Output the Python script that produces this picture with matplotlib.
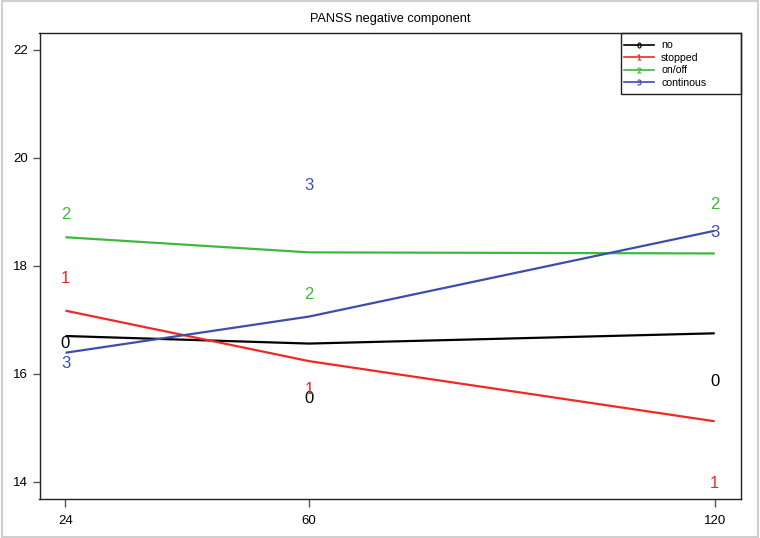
import matplotlib
matplotlib.use("Agg")
import matplotlib.pyplot as plt
from matplotlib.lines import Line2D
from matplotlib.patches import Rectangle

plt.rcParams['font.family'] = ['Liberation Sans', 'DejaVu Sans']

# ---- data ----
time = [24, 60, 120]
series_names = ["no", "stopped", "on/off", "continous"]
series_codes = ["0", "1", "2", "3"]
line_no = [16.70, 16.56, 16.75]
line_stopped = [17.17, 16.235, 15.12]
line_onoff = [18.53, 18.25, 18.23]
line_cont = [16.39, 17.06, 18.65]
pts_no = [16.59, 15.57, 15.88]
pts_stopped = [17.785, 15.74, 14.0]
pts_onoff = [18.97, 17.49, 19.16]
pts_cont = [16.22, 19.51, 18.65]
y_ticks = [14, 16, 18, 20, 22]
title = "PANSS negative component"

colors = ["#000000", "#EE2A24", "#3DB83D", "#3B4EAE"]
lines = [line_no, line_stopped, line_onoff, line_cont]
pts = [pts_no, pts_stopped, pts_onoff, pts_cont]

W, H = 760, 538
fig = plt.figure(figsize=(W/100, H/100), dpi=100)
ax = fig.add_axes([39.5/W, 1-499/H, (740.7-39.5)/W, (499-32.7)/H])

for ys, c in zip(lines, colors):
    ax.plot(time, ys, color=c, lw=1.6, solid_capstyle='butt')
for ys, c, code in zip(pts, colors, series_codes):
    for x, y in zip(time, ys):
        ax.text(x, y, code, color=c, fontsize=12, ha='center', va='center_baseline')

ax.set_xlim(20.16, 123.84)
ax.set_ylim(13.68, 22.32)
ax.set_xticks(time)
ax.set_xticklabels([str(t) for t in time])
ax.set_yticks(y_ticks)
ax.set_yticklabels([str(t) for t in y_ticks])
ax.tick_params(axis='both', length=5.4, width=1.0, color='#555555', labelsize=9.5)
ax.tick_params(axis='x', pad=6.0)
ax.tick_params(axis='y', pad=3)
for s in ax.spines.values():
    s.set_linewidth(1.0)
    s.set_color('#222222')

ax.set_title(title, fontsize=9.2, pad=7.5)

# legend: frame box drawn separately
fig.add_artist(Rectangle((621/W, 1-94.3/H), (740.7-621)/W, (94.3-32.7)/H,
                         transform=fig.transFigure, fill=False,
                         edgecolor='#222222', lw=1.0, zorder=5))
handles = [Line2D([0], [0], color=c, lw=1.2, marker=f'${code}$', markersize=4,
                  markeredgewidth=0.3)
           for c, code in zip(colors, series_codes)]
leg = fig.legend(handles, series_names, loc='upper left',
                 bbox_to_anchor=(624/W, 1-40.3/H), bbox_transform=fig.transFigure,
                 borderaxespad=0, borderpad=0, fontsize=7.6, frameon=False,
                 handlelength=2.85, handletextpad=0.66, labelspacing=0.24)

fig.add_artist(Rectangle((0.002, 0.002), 0.996, 0.996, transform=fig.transFigure,
                         fill=False, edgecolor='#cfcfcf', lw=1.5))

fig.savefig("out.png", dpi=100)
